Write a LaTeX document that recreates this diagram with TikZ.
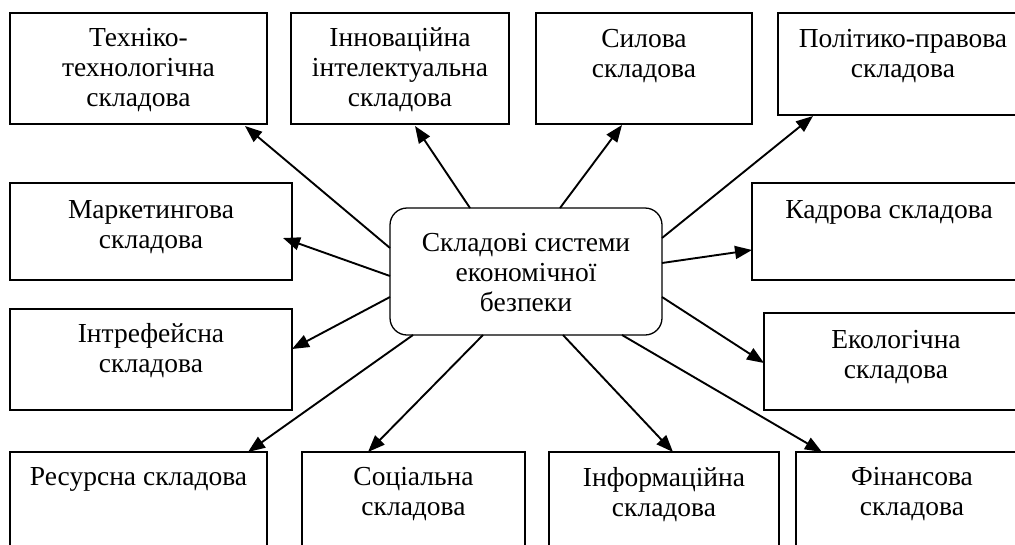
\documentclass[tikz,border=0pt]{standalone}
\usepackage{fontspec}
\setmainfont{Liberation Serif}
\usetikzlibrary{calc,arrows.meta}
\tikzset{
  box/.style={draw, line width=1.3pt, inner sep=0pt, outer sep=0pt, anchor=north west},
  centre/.style={draw, line width=1.3pt, rounded corners=17pt, inner sep=0pt, outer sep=0pt, anchor=north west, minimum width=272pt, minimum height=127pt},
  txt/.style={inner sep=0pt, outer sep=0pt, anchor=north, align=center, font=\fontsize{27.5}{30}\selectfont},
  conn/.style={line width=1.9pt, -{Triangle[length=17pt,width=13pt]}}
}
\begin{document}
\begin{tikzpicture}[x=1pt,y=-1pt]
\useasboundingbox (0,0) rectangle (1015,544);
\clip (0,0) rectangle (1015,544);
\fill[white] (0,0) rectangle (1015,544);
% boxes
\node[box, minimum width=257pt, minimum height=111pt] (b1) at (10,13) {};
\node[box, minimum width=218pt, minimum height=111pt] (b2) at (291,13) {};
\node[box, minimum width=216pt, minimum height=111pt] (b3) at (536,13) {};
\node[box, minimum width=250pt, minimum height=102pt] (b4) at (778,13) {};
\node[box, minimum width=282pt, minimum height=97pt] (b5) at (10,183) {};
\node[box, minimum width=274pt, minimum height=97pt] (b6) at (752,183) {};
\node[box, minimum width=282pt, minimum height=101pt] (b7) at (10,309) {};
\node[box, minimum width=264pt, minimum height=97pt] (b8) at (764,313) {};
\node[box, minimum width=257pt, minimum height=110pt] (b9) at (10,452) {};
\node[box, minimum width=223pt, minimum height=110pt] (b10) at (302,452) {};
\node[box, minimum width=230pt, minimum height=110pt] (b11) at (549,452) {};
\node[box, minimum width=232pt, minimum height=110pt] (b12) at (796,452) {};
\node[centre] (c) at (390,208) {};
% texts
\node[txt] (t1) at ($(b1.north)+(0,15)$) {Техніко-\\технологічна\\складова};
\node[txt] (t2) at ($(b2.north)+(0,15)$) {Інноваційна\\інтелектуальна\\складова};
\node[txt] (t3) at ($(b3.north)+(0,16)$) {Силова\\складова};
\node[txt] (t4) at ($(b4.north)+(0,16)$) {Політико-правова\\складова};
\node[txt] (t5) at ($(b5.north)+(0,17)$) {Маркетингова\\складова};
\node[txt] (t6) at ($(b6.north)+(0,17)$) {Кадрова складова};
\node[txt] (t7) at ($(b7.north)+(0,14)$) {Інтрефейсна\\складова};
\node[txt] (t8) at ($(b8.north)+(0,17)$) {Екологічна\\складова};
\node[txt] (t9) at ($(b9.north)+(0,15)$) {Ресурсна складова};
\node[txt] (t10) at ($(b10.north)+(0,15)$) {Соціальна\\складова};
\node[txt] (t11) at ($(b11.north)+(0,15)$) {Інформаційна\\складова};
\node[txt] (t12) at ($(b12.north)+(0,15)$) {Фінансова\\складова};
\node[txt] (tc) at ($(c.north)+(0,25)$) {Складові системи\\економічної\\безпеки};
% connectors
\draw[conn] ($(c.north west)+(0,40)$) -- ($(b1.south west)+(235,2)$);
\draw[conn] ($(c.north west)+(80,0)$) -- ($(b2.south west)+(124,2)$);
\draw[conn] ($(c.north west)+(170,0)$) -- ($(b3.south west)+(86,1)$);
\draw[conn] ($(c.north east)+(0,30)$) -- ($(b4.south west)+(35,1)$);
\draw[conn] ($(c.north west)+(0,68)$) -- ($(b5.north east)+(-9,55)$);
\draw[conn] ($(c.north east)+(0,55)$) -- ($(b6.north west)+(0,67)$);
\draw[conn] ($(c.north west)+(0,89)$) -- ($(b7.north east)+(0,40)$);
\draw[conn] ($(c.north east)+(0,89)$) -- ($(b8.north west)+(0,50)$);
\draw[conn] ($(c.south west)+(23,0)$) -- ($(b9.north west)+(238,0)$);
\draw[conn] ($(c.south west)+(93,0)$) -- ($(b10.north west)+(66,0)$);
\draw[conn] ($(c.south west)+(173,0)$) -- ($(b11.north west)+(124,0)$);
\draw[conn] ($(c.south west)+(232,0)$) -- ($(b12.north west)+(26,0)$);
\end{tikzpicture}
\end{document}
